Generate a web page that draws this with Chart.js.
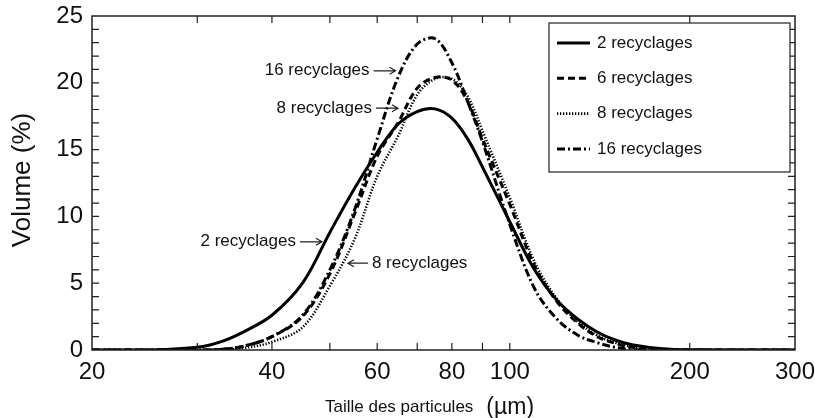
<!DOCTYPE html>
<html>
<head>
<meta charset="utf-8">
<script src="https://cdn.jsdelivr.net/npm/chart.js@4.4.1/dist/chart.umd.min.js"></script>
<style>
  html, body { margin: 0; padding: 0; background: #fff; }
</style>
</head>
<body>
<canvas id="chart" width="815" height="418"></canvas>
<script>
// particle size (µm) and volume (%)
const sizes = [20, 25, 30, 33, 36, 40, 45, 50, 55, 60, 65, 70, 75, 80, 85, 90, 100, 110, 120, 130, 140, 150, 160, 180, 200, 250, 300];
const rec2  = [0, 0, 0.2, 0.65, 1.4, 2.6, 5.0, 8.8, 12.1, 14.8, 16.9, 17.85, 18.05, 17.35, 15.8, 13.7, 9.6, 6.0, 3.7, 2.3, 1.35, 0.75, 0.4, 0.1, 0.02, 0, 0];
const rec6  = [0, 0, 0, 0.05, 0.3, 1.0, 2.5, 5.7, 10.2, 14.5, 17.0, 19.6, 20.4, 20.2, 18.6, 15.8, 10.9, 6.3, 3.6, 2.0, 1.0, 0.5, 0.2, 0.03, 0, 0, 0];
const rec8  = [0, 0, 0, 0.02, 0.15, 0.6, 1.7, 4.8, 8.3, 13.0, 16.0, 19.1, 20.3, 20.3, 19.0, 16.4, 11.4, 6.6, 3.8, 2.1, 1.1, 0.55, 0.25, 0.05, 0, 0, 0];
const rec16 = [0, 0, 0, 0.05, 0.3, 1.0, 2.6, 6.0, 10.5, 15.8, 20.4, 22.9, 23.3, 21.5, 18.6, 15.6, 9.4, 4.6, 2.3, 1.1, 0.55, 0.2, 0.05, 0, 0, 0, 0];

const seriesNames = ['2 recyclages', '6 recyclages', '8 recyclages', '16 recyclages'];
const xTicks = [20, 30, 40, 50, 60, 70, 80, 90, 100, 200, 300];
const xLabels = [20, 40, 60, 80, 100, 200, 300];

const FONT = "'Liberation Sans', Arial, sans-serif";

// arrow notes: tip at (size, volume), text on the left or right
const notes = [
    { text: '16 recyclages', x: 64.4, y: 20.9, side: 'left' },
    { text: '8 recyclages', x: 65.0, y: 18.1, side: 'left' },
    { text: '2 recyclages', x: 48.5, y: 8.1, side: 'left' },
    { text: '8 recyclages', x: 53.6, y: 6.5, side: 'right' }
];

function points(vals) {
    return sizes.map((s, i) => ({ x: s, y: vals[i] }));
}

const styles = [
    { width: 3, dash: [] },
    { width: 3, dash: [7, 4] },
    { width: 2.6, dash: [1.3, 1.7] },
    { width: 3, dash: [8, 3, 2, 3] }
];

const allSeries = [rec2, rec6, rec8, rec16];

const datasets = allSeries.map((vals, i) => ({
    label: seriesNames[i],
    data: points(vals),
    borderColor: '#000',
    borderWidth: styles[i].width,
    borderDash: styles[i].dash,
    pointRadius: 0,
    fill: false,
    tension: 0.35
}));

function arrow(ctx, x1, y, x2) {
    // line from x1 to x2, head at x2
    ctx.beginPath();
    ctx.moveTo(x1, y);
    ctx.lineTo(x2, y);
    const d = x2 > x1 ? -1 : 1;
    ctx.moveTo(x2 + d * 6, y - 3.5);
    ctx.lineTo(x2, y);
    ctx.lineTo(x2 + d * 6, y + 3.5);
    ctx.stroke();
}

const decor = {
    id: 'decor',
    afterDraw(chart) {
        const ctx = chart.ctx;
        const a = chart.chartArea;
        const xs = chart.scales.x, ys = chart.scales.y;
        ctx.save();

        // frame
        ctx.strokeStyle = '#222';
        ctx.lineWidth = 1.5;
        ctx.strokeRect(a.left, a.top, a.right - a.left, a.bottom - a.top);

        // inward ticks
        ctx.lineWidth = 1.2;
        ctx.beginPath();
        for (let v = 1; v < 25; v++) {
            const py = ys.getPixelForValue(v);
            ctx.moveTo(a.left, py); ctx.lineTo(a.left + 7, py);
            ctx.moveTo(a.right, py); ctx.lineTo(a.right - 7, py);
        }
        xTicks.slice(1, -1).forEach(v => {
            const px = xs.getPixelForValue(v);
            ctx.moveTo(px, a.bottom); ctx.lineTo(px, a.bottom - 7);
            ctx.moveTo(px, a.top); ctx.lineTo(px, a.top + 7);
        });
        ctx.stroke();

        // axis titles
        ctx.fillStyle = '#111';
        ctx.textBaseline = 'alphabetic';
        ctx.textAlign = 'left';
        ctx.font = '17px ' + FONT;
        const t1 = 'Taille des particules';
        const x0 = a.left + 233;
        ctx.fillText(t1, x0, 412);
        const w1 = ctx.measureText(t1).width;
        ctx.font = '23px ' + FONT;
        ctx.fillText('(µm)', x0 + w1 + 13, 414);

        ctx.save();
        ctx.translate(30, (a.top + a.bottom) / 2 - 3);
        ctx.rotate(-Math.PI / 2);
        ctx.textAlign = 'center';
        ctx.font = '26px ' + FONT;
        ctx.fillText('Volume (%)', 0, 0);
        ctx.restore();

        // notes with arrows
        ctx.font = '17px ' + FONT;
        ctx.textBaseline = 'middle';
        ctx.lineWidth = 1.2;
        notes.forEach(n => {
            const px = xs.getPixelForValue(n.x);
            const py = ys.getPixelForValue(n.y);
            if (n.side === 'left') {
                arrow(ctx, px - 22, py, px);
                ctx.textAlign = 'right';
                ctx.fillText(n.text, px - 26, py);
            } else {
                arrow(ctx, px + 20, py, px);
                ctx.textAlign = 'left';
                ctx.fillText(n.text, px + 24, py);
            }
        });

        // legend box
        const bx = a.right - 246, by = a.top + 7, bw = 241, bh = 149;
        ctx.fillStyle = '#fff';
        ctx.fillRect(bx, by, bw, bh);
        ctx.strokeStyle = '#222';
        ctx.lineWidth = 1.2;
        ctx.strokeRect(bx, by, bw, bh);
        chart.data.datasets.forEach((ds, i) => {
            const ly = by + 20 + i * 35.3;
            ctx.strokeStyle = '#000';
            ctx.lineWidth = ds.borderWidth;
            ctx.setLineDash(ds.borderDash);
            ctx.beginPath();
            ctx.moveTo(bx + 8, ly);
            ctx.lineTo(bx + 41, ly);
            ctx.stroke();
            ctx.setLineDash([]);
            ctx.fillStyle = '#111';
            ctx.textAlign = 'left';
            ctx.fillText(ds.label, bx + 48, ly);
        });

        ctx.restore();
    }
};

new Chart(document.getElementById('chart'), {
    type: 'line',
    data: { datasets: datasets },
    options: {
        responsive: false,
        animation: false,
        devicePixelRatio: 1,
        layout: { padding: { top: 16, right: 20, left: 0, bottom: 0 } },
        plugins: { legend: { display: false }, tooltip: { enabled: false } },
        scales: {
            x: {
                type: 'logarithmic',
                min: 20,
                max: 300,
                afterBuildTicks: s => { s.ticks = xTicks.map(v => ({ value: v })); },
                afterFit: s => { s.height = 68; s.paddingLeft = 0; s.paddingRight = 0; },
                ticks: {
                    autoSkip: false,
                    maxRotation: 0,
                    padding: 8,
                    color: '#111',
                    font: { size: 24, family: FONT },
                    callback: v => xLabels.includes(v) ? String(v) : ''
                },
                grid: { display: false, drawTicks: false },
                border: { display: false }
            },
            y: {
                min: 0,
                max: 25,
                afterFit: s => { s.width = 92; s.paddingTop = 0; s.paddingBottom = 0; },
                ticks: {
                    stepSize: 5,
                    padding: 9,
                    color: '#111',
                    font: { size: 24, family: FONT }
                },
                grid: { display: false, drawTicks: false },
                border: { display: false }
            }
        }
    },
    plugins: [decor]
});
</script>
</body>
</html>
